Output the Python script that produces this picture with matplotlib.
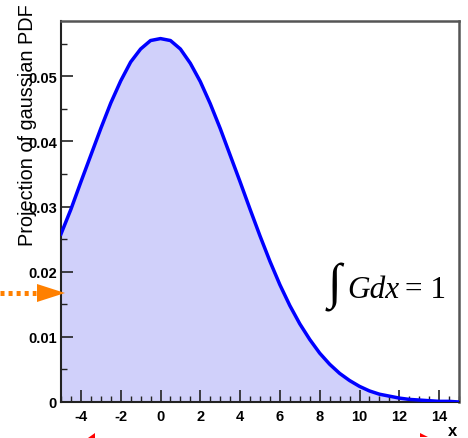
import matplotlib
matplotlib.use("Agg")
import matplotlib.pyplot as plt
from matplotlib.lines import Line2D
from matplotlib.patches import Polygon
from matplotlib.ticker import MultipleLocator, FixedLocator

plt.rcParams['lines.scale_dashes'] = False

# Data
x_vals = [-5, -4.5, -4, -3.5, -3, -2.5, -2, -1.5, -1, -0.5, 0, 0.5, 1, 1.5, 2, 2.5,
          3, 3.5, 4, 4.5, 5, 5.5, 6, 6.5, 7, 7.5, 8, 8.5, 9, 9.5, 10, 10.5, 11,
          11.5, 12, 12.5, 13, 13.5, 14, 14.5, 15]
pdf_vals = [0.0258, 0.0296, 0.0338, 0.0379, 0.0420, 0.0459, 0.0493, 0.0522, 0.0542,
            0.0555, 0.0558, 0.0555, 0.0542, 0.0520, 0.0492, 0.0458, 0.0420, 0.0379,
            0.0338, 0.0296, 0.0255, 0.0216, 0.0180, 0.0148, 0.0120, 0.0096, 0.0075,
            0.0058, 0.0044, 0.0033, 0.0024, 0.0017, 0.0012, 0.0009, 0.0006, 0.0004,
            0.0003, 0.0002, 0.0001, 0.0001, 0.0000]
xticks = [-4, -2, 0, 2, 4, 6, 8, 10, 12, 14]
yticks = [0, 0.01, 0.02, 0.03, 0.04, 0.05]
ytick_labels = ['0', '0.01', '0.02', '0.03', '0.04', '0.05']
y_title = "Projection of gaussian PDF"
x_title = "x"

W, H = 468, 439
fig = plt.figure(figsize=(W / 100, H / 100), dpi=100)
ax = fig.add_axes([61 / W, 1 - 403 / H, (459 - 61) / W, (403 - 22) / H])

ax.fill_between(x_vals, pdf_vals, 0, color='#d0d0fa', lw=0, zorder=1)
ax.plot(x_vals, pdf_vals, color='#0000ff', lw=2.5, zorder=3, solid_joinstyle='round')

ax.set_xlim(-5, 15)
ax.set_ylim(0, 0.0585)

tick_font = dict(family='Liberation Sans', weight='bold', size=10.5)
ax.xaxis.set_major_locator(FixedLocator(xticks))
ax.xaxis.set_minor_locator(MultipleLocator(0.5))
ax.yaxis.set_major_locator(FixedLocator(yticks))
ax.yaxis.set_minor_locator(MultipleLocator(0.005))
ax.set_xticklabels([str(t) for t in xticks], fontdict=tick_font)
ax.set_yticklabels(ytick_labels, fontdict=tick_font)
ax.tick_params(axis='both', which='major', direction='in', length=8.5, width=1.2, color='#222222')
ax.tick_params(axis='both', which='minor', direction='in', length=4.5, width=1.0, color='#222222')
ax.tick_params(axis='x', which='major', pad=5)
ax.tick_params(axis='y', which='major', pad=3)

for side in ['left', 'bottom']:
    ax.spines[side].set_color('#222222')
    ax.spines[side].set_linewidth(1.5)
for side in ['top', 'right']:
    ax.spines[side].set_color('#555555')
    ax.spines[side].set_linewidth(1.8)

# Axis titles
fig.text(28 / W, 1 - 4 / H, y_title, rotation=90, ha='center', va='top',
         family='Liberation Sans', size=14.3)
fig.text(453 / W, 1 - 432 / H, x_title, ha='center', va='center',
         family='Liberation Sans', weight='bold', size=12)

# Integral annotation
fig.text(334 / W, 1 - 287 / H, '\u222b', ha='center', va='center',
         family=['Liberation Serif', 'DejaVu Serif'], size=36)
fig.text(347 / W, 1 - 298 / H, 'Gdx', ha='left', va='baseline',
         family='Liberation Serif', style='italic', size=22.5)
fig.text(405 / W, 1 - 298 / H, '= 1', ha='left', va='baseline',
         family='Liberation Serif', size=22.5)

# Orange dotted arrow at left
fig.add_artist(Line2D([0 / W, 36 / W], [1 - 294 / H, 1 - 294 / H], transform=fig.transFigure,
                      color='#ff8000', lw=3.6, dashes=[2.9, 2.9], dash_capstyle='butt'))
fig.add_artist(Polygon([[37 / W, 1 - 285 / H], [65 / W, 1 - 294 / H], [37 / W, 1 - 303 / H]],
                       closed=True, transform=fig.transFigure, color='#ff8000', lw=0))

# Small red marks at bottom edge
fig.add_artist(Polygon([[88 / W, 1 - 439 / H], [95 / W, 1 - 434 / H], [95 / W, 1 - 439 / H]],
                       closed=True, transform=fig.transFigure, color='#ff0000', lw=0))
fig.add_artist(Polygon([[420 / W, 1 - 434 / H], [428 / W, 1 - 438 / H], [420 / W, 1 - 438 / H]],
                       closed=True, transform=fig.transFigure, color='#ff0000', lw=0))

fig.savefig('out.png', dpi=100)
